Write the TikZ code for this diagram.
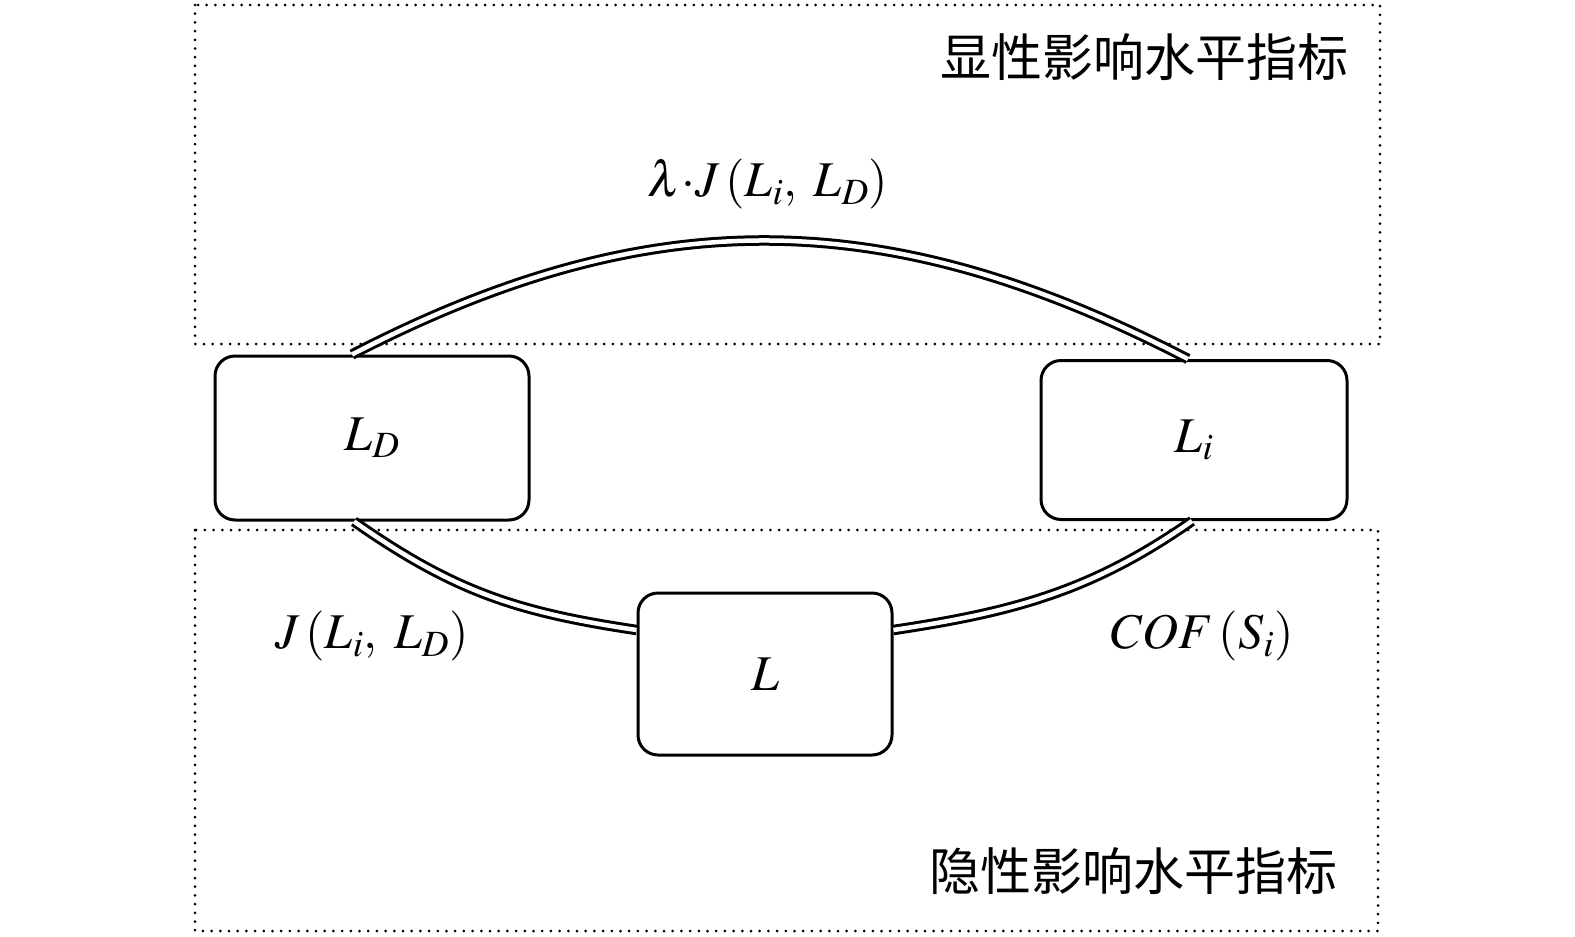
\documentclass[tikz,border=0pt]{standalone}
\usepackage{mathptmx}
\usepackage{fontspec}
\newfontfamily\cjk{Noto Sans CJK SC}

\begin{document}
\begin{tikzpicture}[x=1pt,y=-1pt,
  blk/.style={draw,line width=3pt,rounded corners=20pt,fill=white,inner sep=0pt},
  lnk/.style={double,line width=3pt,double distance=4.5pt},
  zone/.style={line width=3pt,dash pattern=on 0pt off 8.7pt,line cap=round,black},
  big/.style={font=\fontsize{50}{60}\selectfont}]
\useasboundingbox (0,0) rectangle (1575,937);

% zones
\draw[zone] (195,5) rectangle (1380,344);
\draw[zone] (195,530) rectangle (1378,931);
\node[big,font=\fontsize{51}{60}\selectfont\cjk] (top) at (1144,57) {显性影响水平指标};
\node[big,font=\fontsize{51}{60}\selectfont\cjk] (bot) at (1133,871) {隐性影响水平指标};

% blocks
\node[blk,big,minimum width=314pt,minimum height=164pt] (LD) at (372,438) {$L_D$};
\node[blk,big,minimum width=306pt,minimum height=159pt] (Li) at (1194,440) {$L_i$};
\node[blk,big,minimum width=254pt,minimum height=162pt] (L) at (765,674) {$L$};

% links
\draw[lnk] ([xshift=-20pt]LD.north) .. controls +(300,-155) and +(-300,-155) .. ([xshift=-6pt]Li.north);
\draw[lnk] ([xshift=-18pt]LD.south) .. controls +(100,70) and +(-120,-18) .. ([yshift=44pt]L.west);
\draw[lnk] ([yshift=44pt]L.east) .. controls +(120,-18) and +(-100,70) .. ([xshift=-2pt]Li.south);

% labels
\node[big] (lam) at (768,184) {$\lambda{\cdot}J\,(L_i,\;L_D)$};
\node[big] (jl) at (372,636) {$J\,(L_i,\;L_D)$};
\node[big] (cof) at (1202,636) {$COF\,(S_i)$};
\end{tikzpicture}
\end{document}
